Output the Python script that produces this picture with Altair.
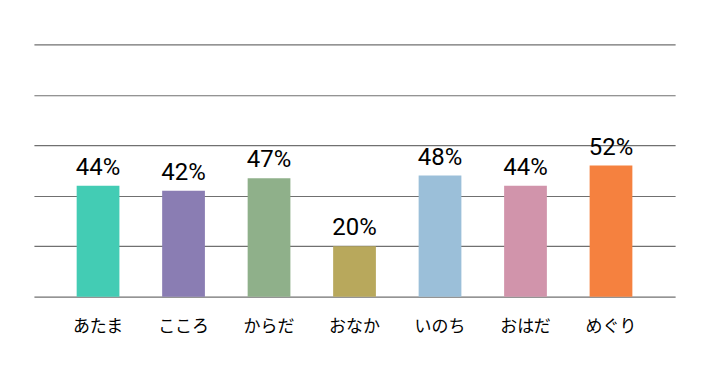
import altair as alt
import pandas as pd

categories = ["あたま", "こころ", "からだ", "おなか", "いのち", "おはだ", "めぐり"]
values = [44, 42, 47, 20, 48, 44, 52]
labels = ["44%", "42%", "47%", "20%", "48%", "44%", "52%"]
colors = ["#43CCB4", "#8A7DB3", "#8FB08A", "#B8A85C", "#9BBFD9", "#D194AB", "#F5813F"]

df = pd.DataFrame({"cat": categories, "val": values, "label": labels})

x = alt.X("cat:N", sort=categories, title=None,
          scale=alt.Scale(paddingInner=0.5, paddingOuter=0.5),
          axis=alt.Axis(domain=False, ticks=False, labelAngle=0, labelFontSize=17,
                        labelFont="Noto Sans CJK JP", labelColor="#000000",
                        labelPadding=22, grid=False))
y = alt.Y("val:Q", title=None,
          scale=alt.Scale(domain=[0, 100], nice=False),
          axis=alt.Axis(values=[0, 20, 40, 60, 80, 100], labels=False, ticks=False,
                        domain=False, grid=True, gridColor="#707070", gridWidth=1.2))

bars = alt.Chart(df).mark_bar().encode(
    x=x, y=y,
    color=alt.Color("cat:N", sort=categories,
                    scale=alt.Scale(domain=categories, range=colors), legend=None),
)

text = alt.Chart(df).mark_text(
    baseline="alphabetic", dy=-11, fontSize=24,
    font="Roboto", color="#000000"
).encode(x=alt.X("cat:N", sort=categories), y="val:Q", text="label:N")

chart = (bars + text).properties(
    width=643, height=253,
    autosize=alt.AutoSizeParams(type="none"),
    padding={"left": 26, "top": 36, "right": 40, "bottom": 80},
).configure_view(stroke=None)

chart.save("out.html", embed_options={"renderer": "svg", "actions": False})
